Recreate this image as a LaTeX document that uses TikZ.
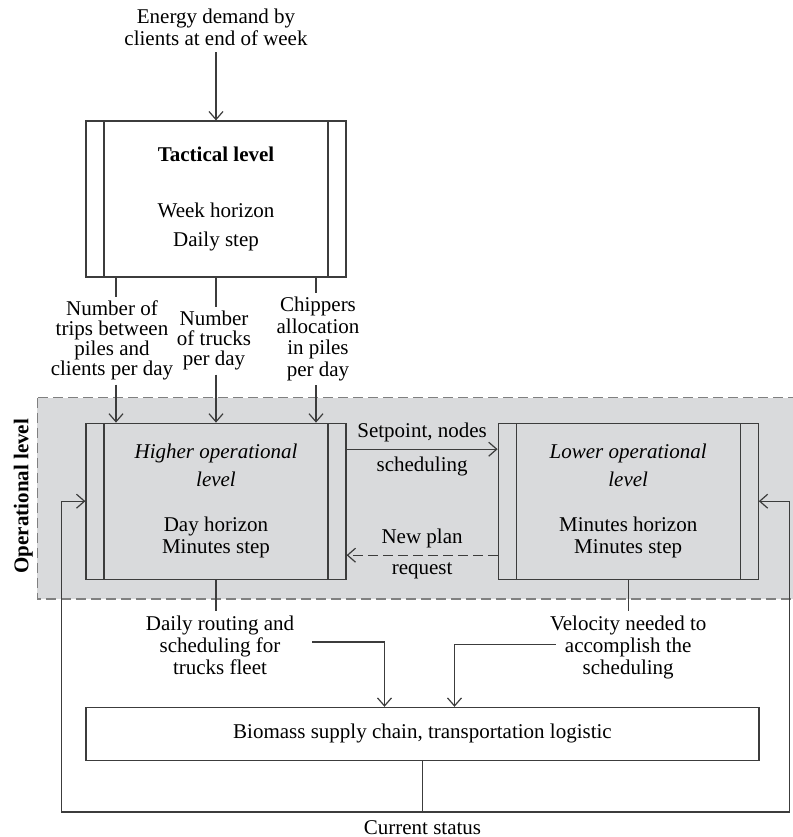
\documentclass[tikz,border=0pt]{standalone}
\usepackage{fontspec}
\setmainfont{Liberation Serif}
\usepackage{xcolor}
\usepackage{tikz}
\usetikzlibrary{positioning, calc, arrows.meta, backgrounds}

\definecolor{linecol}{HTML}{3C3C3C}
\definecolor{opfill}{HTML}{D9DADC}
\definecolor{dashcol}{HTML}{808080}

\begin{document}
\begin{tikzpicture}[
   x=0.5pt, y=-0.5pt,
   font=\fontsize{10.5}{11}\selectfont,
   conn/.style = {draw=linecol, line width=0.6pt},
   arrow/.style = {conn, -{Straight Barb[length=4pt, width=7pt]}},
   levelbox/.style = {draw=linecol, line width=0.6pt, rectangle, minimum width=130pt, minimum height=78pt, align=center,
      path picture={
        \draw[linecol, line width=0.6pt] ([xshift=9pt]path picture bounding box.north west) -- ([xshift=9pt]path picture bounding box.south west);
        \draw[linecol, line width=0.6pt] ([xshift=-9pt]path picture bounding box.north east) -- ([xshift=-9pt]path picture bounding box.south east);}},
   plainbox/.style = {draw=linecol, line width=0.6pt, rectangle, fill=white, minimum width=336.5pt, minimum height=26.5pt},
   toplabel/.style = {align=center, inner sep=2pt, font=\fontsize{10.5}{10}\selectfont},
   botlabel/.style = {align=center, inner sep=2pt},
   region/.style = {fill=opfill, draw=dashcol, line width=0.8pt, dash pattern=on 5pt off 2.5pt}
   ]
  \useasboundingbox (0,0) rectangle (793,837);

  % Tactical box
  \node[levelbox, fill=white] (tactical) at (216,199)
   {\textbf{Tactical level}\\[17pt]
   Week horizon\\[3.5pt]
   Daily step};
  \node[above=34pt of tactical, align=center] (demand)
   {Energy demand by\\
   clients at end of week};

  % Operational boxes
  \node[levelbox, below=72.5pt of tactical] (higher)
   {\textit{Higher operational}\\[3pt]
   \textit{level}\\[11.5pt]
   Day horizon\\
   Minutes step};
  \node[levelbox, right=75.5pt of higher] (lower)
   {\textit{Lower operational}\\[3pt]
   \textit{level}\\[11.5pt]
   Minutes horizon\\
   Minutes step};
  \begin{scope}[on background layer]
   \path[region] ([xshift=-24pt, yshift=12.5pt]higher.north west) rectangle ([xshift=25pt, yshift=-9.5pt]lower.south east);
  \end{scope}
  \node[rotate=90, font=\fontsize{10.5}{11}\selectfont\bfseries] (operational) at ([xshift=-31pt, yshift=2.5pt]higher.west)
   {Operational level};

  % Tactical outputs
  \node[toplabel, below=9.5pt of tactical.south, xshift=-52pt] (trips)
   {Number of\\
   trips between\\
   piles and\\
   clients per day};
  \node[toplabel, below=14.5pt of tactical.south, xshift=-1pt] (trucks)
   {Number\\
   of trucks\\
   per day};
  \node[toplabel, below=7.5pt of tactical.south, xshift=51pt, font=\fontsize{10.5}{10.8}\selectfont] (chippers)
   {Chippers\\
   allocation\\
   in piles\\
   per day};

  % Supply chain box
  \node[plainbox, below=63.5pt of higher.south west, anchor=north west] (supply)
   {Biomass supply chain, transportation logistic};
  \node[botlabel, below=15.7pt of higher.south, xshift=2pt] (routing)
   {Daily routing and\\
   scheduling for\\
   trucks fleet};
  \node[botlabel, below=15.7pt of lower.south] (velocity)
   {Velocity needed to\\
   accomplish the\\
   scheduling};
  \coordinate[below=25.5pt of supply.south] (junction);
  \node[below=1pt of junction] (status) {Current status};

  % Arrows
  \draw[arrow] (demand) -- (tactical);
  \draw[conn] ([xshift=-50pt]tactical.south) -- ([xshift=-50pt]tactical.south |- trips.north);
  \draw[arrow] ([xshift=-50pt]tactical.south |- trips.south) -- ([xshift=-50pt]higher.north);
  \draw[conn] (tactical.south) -- (tactical.south |- trucks.north);
  \draw[arrow] (tactical.south |- trucks.south) -- (higher.north);
  \draw[conn] ([xshift=50pt]tactical.south) -- ([xshift=50pt]tactical.south |- chippers.north);
  \draw[arrow] ([xshift=50pt]tactical.south |- chippers.south) -- ([xshift=50pt]higher.north);

  \draw[arrow] ([yshift=26pt]higher.east) -- node[above] {Setpoint, nodes} node[below] {scheduling} ([yshift=26pt]lower.west);
  \draw[arrow, dash pattern=on 5pt off 2.5pt] ([yshift=-27pt]lower.west) -- node[above] {New plan} node[below] {request} ([yshift=-27pt]higher.east);

  \draw[conn] (higher.south) -- (higher.south |- routing.north);
  \draw[arrow] ([xshift=7pt, yshift=1.5pt]routing.east) -| ([xshift=-19pt]supply.north);
  \draw[conn] (lower.south) -- (lower.south |- velocity.north);
  \draw[arrow] ([xshift=5pt, yshift=1.5pt]velocity.west) -| ([xshift=16pt]supply.north);

  % Current status feedback
  \draw[arrow] (supply.south) -- (junction) -| ([xshift=-12pt]higher.west) -- (higher.west);
  \draw[arrow] (junction) -| ([xshift=15.5pt]lower.east) -- (lower.east);
\end{tikzpicture}
\end{document}
